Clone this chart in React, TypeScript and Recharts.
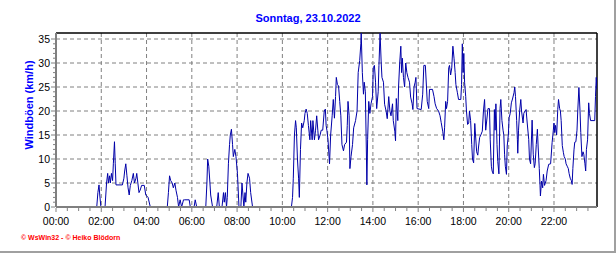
import { CartesianGrid, Line, LineChart, ReferenceLine, XAxis, YAxis } from "recharts";

// minutes since midnight
const minutes = [
  0, 108, 111, 114, 116, 119, 130, 134, 137, 139, 142, 144, 147, 150, 152, 155, 157, 159, 176, 180,
  182, 185, 188, 191, 194, 197, 201, 205, 208, 212, 214, 217, 220, 223, 227, 234, 238, 244, 250, 295,
  298, 301, 304, 308, 311, 315, 318, 322, 325, 329, 333, 338, 341, 353, 356, 366, 369, 373, 397, 400,
  402, 405, 408, 410, 415, 426, 430, 433, 440, 444, 446, 449, 452, 454, 457, 460, 462, 465, 468, 470,
  474, 477, 481, 485, 490, 493, 498, 501, 503, 506, 509, 513, 516, 521, 624, 627, 629, 632, 635, 637,
  640, 643, 645, 648, 651, 654, 658, 660, 663, 666, 669, 673, 675, 679, 681, 685, 688, 691, 694, 696,
  700, 703, 707, 711, 714, 716, 718, 721, 725, 728, 732, 735, 738, 741, 743, 746, 749, 752, 755, 758,
  762, 765, 770, 772, 774, 777, 779, 782, 786, 789, 794, 798, 801, 805, 808, 809, 812, 815, 817, 820,
  823, 824, 826, 829, 832, 835, 839, 841, 844, 847, 850, 854, 856, 859, 862, 864, 868, 871, 875, 878,
  882, 885, 888, 892, 894, 898, 900, 902, 906, 908, 911, 914, 916, 918, 921, 924, 927, 930, 933, 937,
  940, 944, 946, 949, 952, 954, 957, 968, 972, 975, 979, 982, 984, 988, 990, 998, 1002, 1005, 1009, 1014,
  1018, 1021, 1025, 1028, 1030, 1033, 1035, 1038, 1041, 1043, 1046, 1049, 1052, 1055, 1058, 1060, 1064, 1067, 1073, 1075,
  1077, 1079, 1081, 1083, 1086, 1088, 1091, 1094, 1096, 1099, 1102, 1104, 1107, 1110, 1112, 1115, 1118, 1120, 1123, 1126,
  1130, 1133, 1136, 1139, 1141, 1145, 1149, 1151, 1154, 1156, 1159, 1162, 1164, 1166, 1169, 1171, 1174, 1177, 1179, 1182,
  1185, 1187, 1189, 1191, 1194, 1196, 1199, 1201, 1204, 1207, 1210, 1214, 1216, 1218, 1221, 1223, 1224, 1226, 1229, 1232,
  1234, 1238, 1240, 1243, 1246, 1249, 1253, 1255, 1258, 1262, 1265, 1268, 1270, 1273, 1276, 1278, 1281, 1283, 1284, 1287,
  1290, 1292, 1295, 1299, 1302, 1306, 1311, 1315, 1317, 1320, 1322, 1324, 1327, 1330, 1332, 1335, 1337, 1339, 1342, 1345,
  1347, 1350, 1352, 1355, 1358, 1360, 1363, 1366, 1368, 1370, 1373, 1375, 1378, 1381, 1383, 1386, 1389, 1391, 1394, 1397,
  1399, 1402, 1404, 1406, 1409, 1412, 1414, 1417, 1428, 1430, 1432, 1434,
];

// Windböen in km/h
const gusts = [
  0, 0, 3, 4.6, 2.5, 0, 0, 5, 7, 5, 6.5, 5, 7, 5.5, 9, 13.6, 9, 4.6, 4.6, 6,
  7.5, 9, 6.5, 4, 2.5, 4.5, 5.5, 7, 5, 6, 7, 5, 3, 3.5, 4.5, 4.5, 2.5, 2, 0, 0,
  3, 6.5, 5.5, 5, 4, 5, 3.5, 2, 0, 1.5, 0, 1.5, 1.5, 1.5, 0, 0, 1.5, 0, 0, 5,
  10, 8.5, 5, 2.5, 0, 0, 3, 0, 0, 3, 1, 3, 0, 2, 9, 13, 15, 16.2, 13, 10.5,
  12, 10.5, 7, 0, 0, 5, 0, 3, 1, 5, 7, 6, 3, 0, 0, 2, 6, 15, 18, 16.5,
  10, 6, 2, 12, 17.5, 16.5, 18, 19.5, 20.4, 19.5, 17, 14, 18, 14, 18, 14, 16, 19, 16, 14,
  15, 16, 16, 20, 20.4, 17, 16, 14, 9, 15, 19, 22.4, 18.5, 23, 27, 25.5, 25.2, 22, 19, 13,
  11.7, 13, 13.5, 17, 22, 19, 8, 10.5, 13, 16.5, 18, 20, 28, 30.5, 34, 36.2, 28, 23.5, 26, 24,
  10, 4.6, 14, 22, 19.5, 21.5, 23, 29, 29.5, 26, 20.5, 24, 29.5, 36.2, 30, 27, 26, 21.4, 20, 18.4,
  23, 20, 19, 21.5, 18, 15.8, 13.8, 22.6, 18, 25, 30, 33.5, 28, 31, 27, 25, 30, 28, 27, 26,
  22.9, 21.5, 20.3, 25, 26, 27, 20.5, 20.3, 23.5, 29.5, 29.5, 25, 22, 20.5, 24.5, 24.5, 23, 21.5, 20.5, 20,
  19, 17.6, 15.8, 14, 16.5, 22, 20.5, 22, 29, 29.5, 27.5, 29, 33.5, 31, 28, 25.5, 23.8, 22.4, 22.4, 25.5,
  34, 28, 32, 26, 23, 20, 17.2, 17.5, 20, 18, 13, 10, 9.2, 17.4, 15, 11.5, 10.8, 12.5, 14.5, 15,
  15.8, 20, 22.4, 16, 17.5, 20.5, 20.5, 14, 8.5, 7.5, 6.9, 20.3, 16, 21.5, 13, 9.5, 6.9, 20.5, 22.4, 18,
  16, 15, 11, 8.5, 6.8, 12.7, 15, 18.6, 19.5, 21.7, 22.5, 23.8, 25, 23, 18, 14, 11.2, 16, 20.1, 22.4,
  20, 17.5, 19.5, 20, 20.3, 17.5, 14.1, 10, 9, 18.1, 11, 8.2, 9, 13, 16.2, 12.5, 8, 4.4, 2.3, 5.4,
  4, 6.8, 4.5, 5.5, 7.5, 8.9, 9, 13.4, 15, 17.5, 15.5, 17, 15, 20.3, 22.4, 20.5, 20, 18, 12.8, 11.3,
  10.5, 10, 9, 8.5, 8, 7, 6, 5.5, 4.7, 8, 11.9, 13.5, 13.6, 16, 20, 24.9, 20, 15.5, 10.5, 11.5,
  11, 9, 7.5, 12, 14, 21.7, 19.5, 18, 18, 23, 27, 24.5,
];

const yTicks = Array.from({ length: 36 }, (_, i) => i);
const xTicks = Array.from({ length: 48 }, (_, i) => i * 30);
const yGrid = [5, 10, 15, 20, 25, 30, 35];
const xGrid = [120, 240, 360, 480, 600, 720, 840, 960, 1080, 1200, 1320];

const title = "Sonntag, 23.10.2022";
const yTitle = "Windböen (km/h)";
const credit = "© WsWin32 - © Heiko Blödorn";

const data = minutes.map((t, i) => ({ t, gust: gusts[i] }));

const FONT = "'Liberation Sans', Arial, sans-serif";
const Y_MAX = 36.25;
const X_MAX = 1434;

const hhmm = (m: number) => `${String(Math.floor(m / 60)).padStart(2, "0")}:${String(m % 60).padStart(2, "0")}`;

function YTick(props: any) {
  const { x, y, payload } = props;
  const major = payload.value % 5 === 0;
  return (
    <g>
      <line x1={x - (major ? 5 : 3)} x2={x - 1} y1={y} y2={y} stroke="#808080" />
      {major && (
        <text x={x - 6} y={y} dy={4} textAnchor="end" fontSize={10.5} fontFamily={FONT} fill="#000">
          {payload.value}
        </text>
      )}
    </g>
  );
}

function XTick(props: any) {
  const { x, y, payload } = props;
  const major = payload.value % 120 === 0;
  return (
    <g>
      <line x1={x} x2={x} y1={y + 1} y2={y + (major ? 5 : 4)} stroke="#808080" />
      {major && (
        <text x={x} y={y + 18} textAnchor="middle" fontSize={10.5} fontFamily={FONT} fill="#000">
          {hhmm(payload.value)}
        </text>
      )}
    </g>
  );
}

export default function App() {
  return (
    <div
      style={{
        position: "absolute",
        left: 0,
        top: 0,
        width: 614,
        height: 251,
        background: "#fff",
        borderRight: "2px solid #a0a0a0",
        borderBottom: "2px solid #a0a0a0",
        fontFamily: FONT,
      }}
    >
      <div
        style={{
          position: "absolute",
          top: 12,
          left: 0,
          width: 616,
          textAlign: "center",
          color: "#0000ff",
          fontWeight: "bold",
          fontSize: 11,
        }}
      >
        {title}
      </div>
      <div
        style={{
          position: "absolute",
          left: 29,
          top: 105,
          transform: "translate(-50%, -50%) rotate(-90deg)",
          whiteSpace: "nowrap",
          color: "#0000ff",
          fontWeight: "bold",
          fontSize: 11,
        }}
      >
        {yTitle}
      </div>
      <div
        style={{
          position: "absolute",
          left: 21,
          top: 234,
          color: "#ff0000",
          fontWeight: "bold",
          fontSize: 7,
          whiteSpace: "nowrap",
        }}
      >
        {credit}
      </div>
      <div style={{ position: "absolute", left: 0, top: 0 }}>
        <LineChart width={616} height={253} data={data} margin={{ top: 33, right: 19, bottom: 0, left: 0 }}>
          <CartesianGrid
            horizontal
            vertical
            horizontalValues={yGrid}
            verticalValues={xGrid}
            stroke="#808080"
            strokeDasharray="4 3"
          />
          <XAxis
            dataKey="t"
            type="number"
            domain={[0, X_MAX]}
            ticks={xTicks}
            interval={0}
            height={46}
            tickSize={0}
            tickMargin={0}
            tick={<XTick />}
            axisLine={{ stroke: "#808080", strokeWidth: 2 }}
            allowDataOverflow
          />
          <YAxis
            type="number"
            domain={[0, Y_MAX]}
            ticks={yTicks}
            interval={0}
            width={56}
            tickSize={0}
            tickMargin={0}
            tick={<YTick />}
            axisLine={{ stroke: "#808080", strokeWidth: 2 }}
            allowDataOverflow
          />
          <ReferenceLine y={Y_MAX} stroke="#000" strokeWidth={1.5} />
          <ReferenceLine x={X_MAX} stroke="#000" strokeWidth={1.5} />
          <Line
            type="linear"
            dataKey="gust"
            stroke="#0000a8"
            strokeWidth={1}
            dot={false}
            isAnimationActive={false}
          />
        </LineChart>
      </div>
    </div>
  );
}
